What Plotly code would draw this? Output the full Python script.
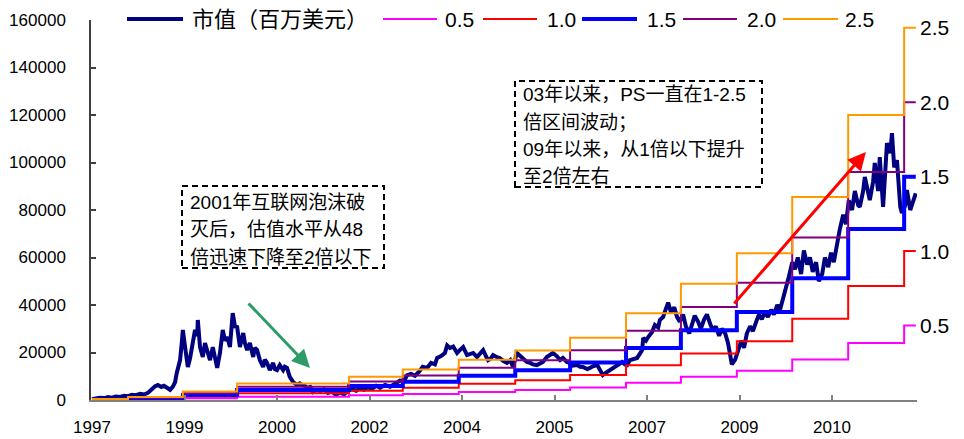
import plotly.graph_objects as go

# ---------------- data ----------------
# market value (USD mn), dates as decimal years
mv_dates = [1997.45, 1997.52, 1997.59, 1997.67, 1997.74, 1997.81, 1997.88, 1997.96, 1998.03, 1998.10,
            1998.17, 1998.24, 1998.32, 1998.39, 1998.46, 1998.53, 1998.59, 1998.64, 1998.70, 1998.75,
            1998.80, 1998.86, 1998.91, 1998.95, 1998.98, 1999.04, 1999.07, 1999.09, 1999.13, 1999.16,
            1999.18, 1999.22, 1999.26, 1999.31, 1999.35, 1999.36, 1999.40, 1999.45, 1999.49, 1999.53,
            1999.58, 1999.63, 1999.67, 1999.71, 1999.76, 1999.81, 1999.85, 1999.89, 1999.94, 1999.99,
            2000.03, 2000.07, 2000.12, 2000.18, 2000.21, 2000.25, 2000.30, 2000.36, 2000.39, 2000.43,
            2000.48, 2000.54, 2000.57, 2000.61, 2000.66, 2000.72, 2000.75, 2000.79, 2000.84, 2000.90,
            2000.93, 2000.97, 2001.02, 2001.08, 2001.15, 2001.20, 2001.24, 2001.30, 2001.33, 2001.39,
            2001.44, 2001.49, 2001.57, 2001.64, 2001.71, 2001.78, 2001.85, 2001.93, 2002.00, 2002.07,
            2002.14, 2002.22, 2002.29, 2002.36, 2002.43, 2002.50, 2002.58, 2002.65, 2002.74, 2002.83,
            2002.92, 2002.96, 2003.01, 2003.08, 2003.14, 2003.21, 2003.28, 2003.35, 2003.42, 2003.50,
            2003.57, 2003.64, 2003.68, 2003.75, 2003.82, 2003.86, 2003.91, 2003.97, 2004.00, 2004.04,
            2004.09, 2004.15, 2004.22, 2004.27, 2004.33, 2004.40, 2004.45, 2004.51, 2004.56, 2004.60,
            2004.65, 2004.69, 2004.76, 2004.81, 2004.87, 2004.94, 2005.00, 2005.05, 2005.12, 2005.18,
            2005.23, 2005.30, 2005.36, 2005.41, 2005.48, 2005.54, 2005.59, 2005.66, 2005.72, 2005.77,
            2005.84, 2005.90, 2005.95, 2006.02, 2006.08, 2006.13, 2006.21, 2006.26, 2006.31, 2006.39,
            2006.44, 2006.49, 2006.57, 2006.62, 2006.67, 2006.71, 2006.75, 2006.80, 2006.84, 2006.89,
            2006.93, 2006.98, 2007.02, 2007.07, 2007.11, 2007.16, 2007.23, 2007.29, 2007.34, 2007.38,
            2007.40, 2007.45, 2007.49, 2007.56, 2007.61, 2007.67, 2007.70, 2007.76, 2007.81, 2007.85,
            2007.90, 2007.96, 2008.01, 2008.06, 2008.12, 2008.17, 2008.23, 2008.28, 2008.33, 2008.39,
            2008.44, 2008.50, 2008.55, 2008.61, 2008.66, 2008.71, 2008.77, 2008.82, 2008.88, 2008.93,
            2008.97, 2009.00, 2009.06, 2009.11, 2009.17, 2009.22, 2009.27, 2009.33, 2009.38, 2009.44,
            2009.49, 2009.54, 2009.60, 2009.65, 2009.71, 2009.76, 2009.82, 2009.87, 2009.92, 2009.98,
            2010.03, 2010.09, 2010.14, 2010.19, 2010.25, 2010.30, 2010.36, 2010.41, 2010.46, 2010.52,
            2010.57, 2010.63, 2010.68, 2010.74, 2010.79, 2010.84, 2010.90, 2010.95, 2011.01, 2011.06,
            2011.11, 2011.17, 2011.22, 2011.28, 2011.31, 2011.37, 2011.40, 2011.46, 2011.49, 2011.55,
            2011.58, 2011.64, 2011.67, 2011.73, 2011.76, 2011.80, 2011.86, 2011.89, 2011.93, 2011.98,
            2012.04, 2012.07, 2012.13, 2012.16, 2012.22, 2012.27, 2012.32]
mv_values = [300, 600, 900, 800, 1200, 1000, 1500, 1300, 1800, 1600,
             2200, 2000, 2600, 2300, 3000, 4500, 5800, 6300, 5500, 6000,
             5200, 4300, 5600, 7500, 11400, 16800, 24000, 29500, 22300, 16000,
             13900, 17500, 22300, 29500, 27000, 33700, 22300, 18100, 24000, 21000,
             16800, 22300, 18000, 13500, 19800, 29500, 25000, 26500, 22300, 36600,
             31000, 30700, 22300, 28200, 24000, 21000, 24000, 18100, 22000, 21000,
             16800, 13900, 17000, 15600, 12600, 15600, 13000, 12600, 14700, 12600,
             14000, 13500, 9700, 7600, 6300, 7000, 6300, 5800, 5000, 5500,
             3400, 4200, 3800, 4500, 3000, 3600, 2200, 3200, 2400, 4000,
             4600, 3900, 5000, 4300, 5500, 4700, 6000, 5200, 6300, 5600,
             6800, 7600, 8200, 8000, 10500, 11000, 10200, 11800, 14000, 13500,
             15600, 15000, 17700, 18500, 19800, 23000, 21900, 22500, 21000, 19800,
             21000, 22300, 18900, 19500, 19800, 18100, 19500, 21000, 18500, 16800,
             17500, 18900, 18000, 17700, 16500, 15600, 16800, 13900, 19800, 18500,
             17700, 16000, 15600, 15000, 14700, 15500, 16000, 18100, 19000, 19800,
             18500, 16800, 17700, 16000, 15600, 14500, 14700, 14000, 13900, 13000,
             13500, 14200, 14700, 12600, 10500, 11200, 11800, 13000, 13500, 14200,
             14700, 15500, 16000, 15000, 14700, 16800, 17200, 17700, 19500, 21000,
             26100, 25000, 26500, 28600, 31600, 30500, 33700, 35000, 38500, 41000,
             37000, 39000, 35000, 33000, 36000, 31000, 28000, 32000, 35500, 33000,
             30000, 34000, 36000, 32000, 29000, 31000, 27000, 30000, 28000, 24000,
             19000, 15000, 17000, 21000, 25000, 22000, 28000, 31000, 29000, 33000,
             36000, 34000, 37000, 35000, 38000, 36000, 40000, 38000, 42000, 47000,
             52000, 58000, 55000, 60000, 53000, 63000, 57000, 60000, 54000, 58000,
             50000, 53000, 60000, 56000, 62000, 58000, 66000, 72000, 78000, 74000,
             84000, 80000, 88000, 82000, 81300, 88000, 93900, 86000, 84200, 92000,
             99800, 88000, 102300, 81300, 95000, 108200, 104000, 112400, 98000, 101000,
             81300, 78700, 82000, 88400, 80000, 84200, 87000]

# trailing sales (USD mn) and the dates each level takes effect
sales_dates = [1997.45, 1998.10, 1999.09, 2000.07, 2002.09, 2003.06, 2004.07, 2005.09,
               2006.08, 2007.09, 2008.08, 2009.09, 2010.09, 2011.10, 2012.11]
sales_values = [150, 500, 1430, 2800, 3900, 5150, 6800, 8350,
                10500, 14600, 19600, 24700, 34200, 48000, 62700]
series_end = 2012.32

ps_multiples = [0.5, 1.0, 1.5, 2.0, 2.5]
ps_labels = ["0.5", "1.0", "1.5", "2.0", "2.5"]
ps_colors = ["#FF00FF", "#FF0000", "#0000FF", "#800080", "#FF9900"]
ps_widths = [2, 2, 4, 2, 2]

mv_name = "市值（百万美元）"
mv_color = "#000080"

tick_years = [1997.45 + 1.6697 * k for k in range(9)]
tick_text = ["1997", "1999", "2000", "2002", "2004", "2005", "2007", "2009", "2010"]

note_left = ["2001年互联网泡沫破", "灭后，估值水平从48", "倍迅速下降至2倍以下"]
note_right = ["03年以来，PS一直在1-2.5", "倍区间波动；", "09年以来，从1倍以下提升", "至2倍左右"]

# ---------------- figure ----------------
W, H = 964, 439
L, R, T, B = 91, 47, 20, 39
PW, PH = W - L - R, H - T - B


def px(x):
    return (x - L) / PW


def py(y):
    return (H - B - y) / PH


NUM_FONT = "Liberation Sans, Arial, sans-serif"
CJK_FONT = "Liberation Sans, Noto Sans CJK SC, sans-serif"

fig = go.Figure()
fig.add_trace(go.Scatter(x=mv_dates, y=mv_values, mode="lines", name=mv_name,
                         line=dict(color=mv_color, width=4), showlegend=False))

step_x = sales_dates + [series_end]
for m, lab, c, w in zip(ps_multiples, ps_labels, ps_colors, ps_widths):
    ys = [m * s for s in sales_values]
    ys = ys + [ys[-1]]
    fig.add_trace(go.Scatter(x=step_x, y=ys, mode="lines", name=lab, line_shape="hv",
                             line=dict(color=c, width=w), showlegend=False))
    fig.add_annotation(x=series_end, y=ys[-1], text=lab, showarrow=False, xanchor="left",
                       yanchor="middle", xshift=2, font=dict(family=NUM_FONT, size=21, color="#000"))

shapes = []
annos = []

# legend drawn along the top edge
legend_items = [(mv_name, mv_color, 4, 127, 183, 190, 22)]
leg_pos = [(383, 437, 443), (483, 537, 545), (582, 637, 645), (683, 737, 745), (783, 838, 843)]
for (x0, x1, xt), lab, c, w in zip(leg_pos, ps_labels, ps_colors, ps_widths):
    legend_items.append((lab, c, w, x0, x1, xt, 21))
for lab, c, w, x0, x1, xt, fs in legend_items:
    shapes.append(dict(type="line", xref="paper", yref="paper", x0=px(x0), x1=px(x1),
                       y0=py(19), y1=py(19), line=dict(color=c, width=w)))
    annos.append(dict(xref="paper", yref="paper", x=px(xt), y=py(19), text=lab, showarrow=False,
                      xanchor="left", yanchor="middle",
                      font=dict(family=CJK_FONT, size=fs, color="#000")))

# dashed note boxes
for (x0, x1, y0, y1) in [(182, 384, 186, 268), (515, 762, 81, 187)]:
    shapes.append(dict(type="rect", xref="paper", yref="paper", x0=px(x0), x1=px(x1),
                       y0=py(y1), y1=py(y0), line=dict(color="#000", width=2, dash="6px,4px")))
for txt, yy in zip(note_left, [202, 230, 257]):
    annos.append(dict(xref="paper", yref="paper", x=px(188), y=py(yy), text=txt, showarrow=False,
                      xanchor="left", yanchor="middle",
                      font=dict(family=CJK_FONT, size=19, color="#000")))
for txt, yy in zip(note_right, [95, 123, 150, 177]):
    annos.append(dict(xref="paper", yref="paper", x=px(521), y=py(yy), text=txt, showarrow=False,
                      xanchor="left", yanchor="middle",
                      font=dict(family=CJK_FONT, size=19, color="#000")))

# trend arrows
annos.append(dict(x=2001.385, y=13500, ax=2000.25, ay=41300, xref="x", yref="y", axref="x", ayref="y",
                  text="", showarrow=True, arrowhead=2, arrowsize=1.2, arrowwidth=3,
                  arrowcolor="#2E9B68"))
annos.append(dict(x=2011.42, y=104400, ax=2009.02, ay=40000, xref="x", yref="y", axref="x", ayref="y",
                  text="", showarrow=True, arrowhead=2, arrowsize=1.2, arrowwidth=3,
                  arrowcolor="#FF0000"))

for a in annos:
    fig.add_annotation(**a)

fig.update_layout(
    width=W, height=H, margin=dict(l=L, r=R, t=T, b=B, autoexpand=False),
    paper_bgcolor="white", plot_bgcolor="white", showlegend=False, shapes=shapes,
    xaxis=dict(range=[1997.432, 2012.342], tickmode="array", tickvals=tick_years, ticktext=tick_text,
               showgrid=False, zeroline=False, showline=True, linecolor="#808080", linewidth=1.5,
               ticks="inside", ticklen=5, tickcolor="#808080", tickwidth=1.5, automargin=False,
               tickfont=dict(family=NUM_FONT, size=17, color="#000"), ticklabelstandoff=11),
    yaxis=dict(range=[0, 160000], tickmode="array", tickvals=list(range(0, 160001, 20000)),
               tickformat="d", showgrid=False, zeroline=False, showline=True, linecolor="#404040",
               linewidth=1.5, ticks="inside", ticklen=5, tickcolor="#404040", tickwidth=1.5,
               automargin=False,
               tickfont=dict(family=NUM_FONT, size=17, color="#000"), ticklabelstandoff=20),
)

fig.write_html("out.html")
